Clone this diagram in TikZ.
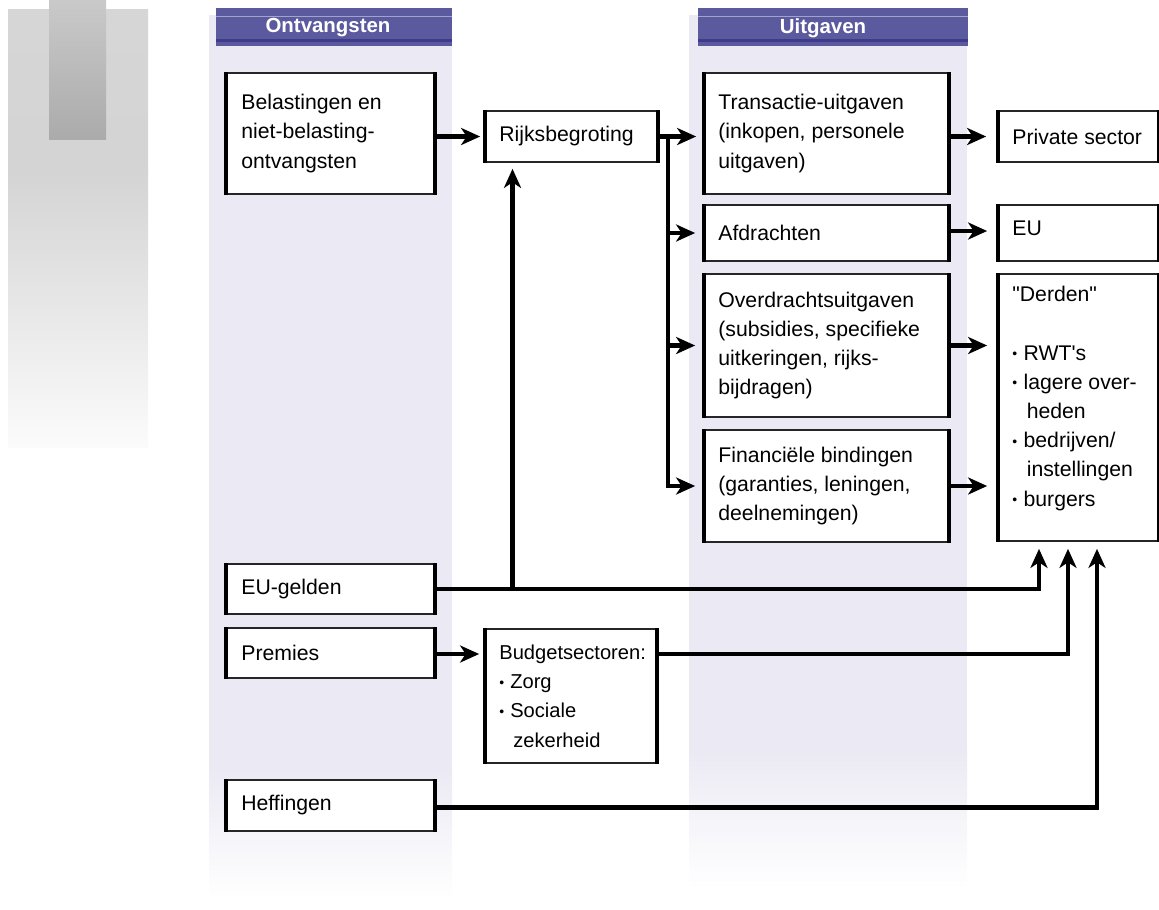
\documentclass[tikz,border=0pt]{standalone}
\usepackage{fontspec}
\newfontfamily\lib{Liberation Sans}
\usetikzlibrary{arrows.meta,calc}
\definecolor{band}{HTML}{EBEAF4}
\definecolor{hdr}{HTML}{5C5A9E}
\definecolor{hdrlight}{HTML}{A3A2CC}
\definecolor{hdrdark}{HTML}{3E3B8A}
\newcommand{\bfont}{\lib\fontsize{21.3}{29.3}\selectfont}
\newcommand{\sfont}{\lib\fontsize{20.2}{29.5}\selectfont}
\newcommand{\bul}{\raisebox{1.5bp}{\fontsize{14}{14}\selectfont\textbullet}\hspace{0.3em}}
\newcommand{\ind}{\phantom{\fontsize{14}{14}\selectfont\textbullet}\hspace{0.45em}}
\tikzset{
  x=1bp, y=-1bp,
  box/.style={draw=black!85, line width=1.7bp, fill=white, inner sep=0pt},
  txt/.style={anchor=west, align=left, inner sep=0pt, font=\bfont},
  side/.style={line width=3.9bp, black},
  link/.style={line width=4.2bp, black},
  arr/.style={link, -{Stealth[length=19bp, width=17bp, inset=5.5bp]}, shorten >=6bp},
  hdrtxt/.style={font=\lib\bfseries\fontsize{20.5}{24}\selectfont, text=white, inner sep=0pt}
}
\newcommand{\sides}[1]{\draw[side] (#1.north west) -- (#1.south west) (#1.north east) -- (#1.south east);}
\begin{document}
\begin{tikzpicture}
\useasboundingbox (0,0) rectangle (1159,910);
% left grey decoration
\shade[top color=black!16, bottom color=black!17] (8,9) rectangle (148,171);
\shade[top color=black!17, bottom color=black!1.5] (8,170) rectangle (148,447);
\shade[top color=black!21, bottom color=black!33] (49,0) rectangle (106,139);
% column bands
\fill[band] (209,15) rectangle (452,771);
\shade[top color=band, bottom color=white] (209,770) rectangle (452,900);
\fill[band] (689,15) rectangle (967,751);
\shade[top color=band, bottom color=white] (689,750) rectangle (967,890);
% headers
\fill[hdr] (216,8) rectangle (452,46);
\fill[hdrlight] (216,15.5) rectangle (452,17);
\fill[hdrdark] (216,39) rectangle (452,42);
\node[hdrtxt] (h1) at (328,28) {Ontvangsten};
\fill[hdr] (698,8) rectangle (968,46);
\fill[hdrlight] (698,15.5) rectangle (968,17);
\fill[hdrdark] (698,39) rectangle (968,42);
\node[hdrtxt] (h2) at (823,28) {Uitgaven};
% boxes
\node[box, minimum width=207bp, minimum height=121bp] (bel) at (330.5,133.5) {};
\node[box, minimum width=171bp, minimum height=51bp] (rijk) at (571.5,136.5) {};
\node[box, minimum width=243bp, minimum height=121bp] (trans) at (826.5,133.5) {};
\node[box, minimum width=159bp, minimum height=51bp] (priv) at (1078.5,136.5) {};
\node[box, minimum width=243bp, minimum height=56bp] (afd) at (826.5,233) {};
\node[box, minimum width=159bp, minimum height=56bp] (eu) at (1078.5,233) {};
\node[box, minimum width=243bp, minimum height=143bp] (over) at (826.5,345.5) {};
\node[box, minimum width=243bp, minimum height=112bp] (fin) at (826.5,486) {};
\node[box, minimum width=159bp, minimum height=267bp] (derd) at (1078.5,407.5) {};
\node[box, minimum width=207bp, minimum height=50bp] (eug) at (330.5,589) {};
\node[box, minimum width=207bp, minimum height=50bp] (prem) at (330.5,653) {};
\node[box, minimum width=170bp, minimum height=134bp] (budg) at (571,696) {};
\node[box, minimum width=207bp, minimum height=51bp] (heff) at (330.5,805.5) {};
\foreach \n in {bel,rijk,trans,priv,afd,eu,over,fin,derd,eug,prem,budg,heff}{\sides{\n}}
% texts
\node[txt] (bel-t) at ([xshift=15bp]bel.west) {Belastingen en\\niet-belasting-\\ontvangsten};
\node[txt] (rijk-t) at ([xshift=14bp]rijk.west) {Rijksbegroting};
\node[txt] (trans-t) at ([xshift=14bp]trans.west) {Transactie-uitgaven\\(inkopen, personele\\uitgaven)};
\node[txt] (priv-t) at ([xshift=14bp]priv.west) {Private sector};
\node[txt] (afd-t) at ([xshift=14bp]afd.west) {Afdrachten};
\node[txt] (eu-t) at ($(eu.west)+(14,-5)$) {EU};
\node[txt] (over-t) at ([xshift=14bp]over.west) {Overdrachtsuitgaven\\(subsidies, specifieke\\uitkeringen, rijks-\\bijdragen)};
\node[txt] (fin-t) at ([xshift=14bp]fin.west) {Financiële bindingen\\(garanties, leningen,\\deelnemingen)};
\node[txt, anchor=north west] (derd-t) at ($(derd.north west)+(14,13)$) {"Derden"\\[29.3bp]\bul RWT\symbol{39}s\\\bul lagere over-\\\ind heden\\\bul bedrijven/\\\ind instellingen\\\bul burgers};
\node[txt] (eug-t) at ([xshift=15bp]eug.west) {EU-gelden};
\node[txt] (prem-t) at ([xshift=15bp]prem.west) {Premies};
\node[txt, font=\sfont] (budg-t) at ([xshift=14bp]budg.west) {Budgetsectoren:\\\bul Zorg\\\bul Sociale\\\ind zekerheid};
\node[txt] (heff-t) at ([xshift=15bp]heff.west) {Heffingen};
% connectors
\coordinate (br) at ([xshift=10bp]rijk.east);
\coordinate (rj) at ([xshift=-59bp]rijk.south);
\coordinate (d1) at ([xshift=-39.5bp]derd.south);
\coordinate (d2) at ([xshift=-10.5bp]derd.south);
\coordinate (d3) at ([xshift=18.5bp]derd.south);
\draw[arr, shorten >=5bp] (bel.east |- rijk.west) -- (rijk.west);
\draw[arr, shorten >=8bp] (rijk.east) -- (trans.west |- rijk.east);
\draw[arr, shorten >=9bp] (br) |- (afd.west);
\draw[arr, shorten >=9bp] (br) |- (over.west);
\draw[arr, shorten >=9bp] (br) |- (fin.west);
\draw[arr, shorten >=12bp] (trans.east |- priv.west) -- (priv.west);
\draw[arr, shorten >=11bp] ([yshift=2bp]afd.east) -- ([yshift=2bp]eu.west);
\draw[arr, shorten >=11bp] (over.east) -- (over.east -| derd.west);
\draw[arr, shorten >=11bp] (fin.east) -- (fin.east -| derd.west);
\draw[arr, shorten >=7bp] (eug.east) -| (d1);
\draw[arr, shorten >=6bp] (rj |- eug.east) -- (rj);
\draw[arr, shorten >=6bp] ([yshift=-1bp]prem.east) -- ([yshift=-1bp]prem.east -| budg.west);
\draw[arr, shorten >=7bp] ([yshift=-1bp]prem.east -| budg.east) -| (d2);
\draw[arr, shorten >=7bp] ([yshift=-2bp]heff.east) -| (d3);
\end{tikzpicture}
\end{document}
